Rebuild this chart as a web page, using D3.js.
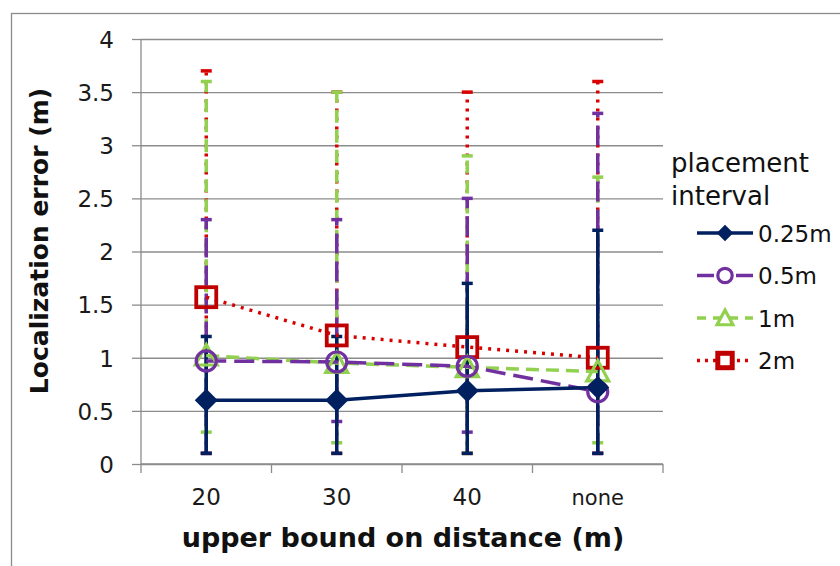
<!DOCTYPE html>
<html>
<head>
<meta charset="utf-8">
<script src="https://cdn.jsdelivr.net/npm/d3@7"></script>
<style>
  body { margin: 0; background: #fff; }
  svg { display: block; }
  .grid line { stroke: #8c8c8c; stroke-width: 1.3; }
  .grid path { display: none; }
  .tick-label { font-family: "DejaVu Sans", sans-serif; fill: #1a1a1a; }
</style>
</head>
<body>
<svg id="chart" width="840" height="566"></svg>
<script>
const categories = ["20", "30", "40", "none"];
const seriesNames = ["0.25m", "0.5m", "1m", "2m"];
const yTicks = [0, 0.5, 1, 1.5, 2, 2.5, 3, 3.5, 4];

// mean localization error per series
const mean025 = [0.6, 0.6, 0.69, 0.72];
const mean05 = [0.97, 0.96, 0.92, 0.68];
const mean1 = [1.02, 0.95, 0.91, 0.87];
const mean2 = [1.57, 1.21, 1.1, 1.0];

// error bar min / max
const low025 = [0.1, 0.1, 0.1, 0.1];
const high025 = [1.2, 1.2, 1.7, 2.2];
const low05 = [0.1, 0.4, 0.3, 0.1];
const high05 = [2.3, 2.3, 2.5, 3.3];
const low1 = [0.3, 0.2, 0.1, 0.2];
const high1 = [3.6, 3.5, 2.9, 2.7];
const low2 = [0.1, 0.1, 0.1, 0.1];
const high2 = [3.7, 3.5, 3.5, 3.6];

const series = [
  { name: seriesNames[0], mean: mean025, low: low025, high: high025, color: "#002060", dash: null, legendDash: null, marker: "diamond" },
  { name: seriesNames[1], mean: mean05, low: low05, high: high05, color: "#7030a0", dash: "20,8", legendDash: "17,22", marker: "circle" },
  { name: seriesNames[2], mean: mean1, low: low1, high: high1, color: "#92d050", dash: "13,7", legendDash: "9,7", marker: "triangle" },
  { name: seriesNames[3], mean: mean2, low: low2, high: high2, color: "#d80000", dash: "3,6", legendDash: "3,5", marker: "square" },
];

const svg = d3.select("#chart");

// outer frame
svg.append("rect")
  .attr("x", 11.5).attr("y", 13.5)
  .attr("width", 840).attr("height", 600)
  .attr("fill", "none").attr("stroke", "#8c8c8c").attr("stroke-width", 1.3);

const plotLeft = 141, plotRight = 663, plotTop = 39, plotBottom = 464;

const x = d3.scaleBand().domain(categories).range([plotLeft, plotRight]).padding(0);
const cx = (c) => x(c) + x.bandwidth() / 2;
const y = d3.scaleLinear().domain([0, 4]).range([plotBottom, plotTop]);

// gridlines
const yGrid = svg.append("g")
  .attr("class", "grid")
  .attr("transform", `translate(${plotLeft},0)`)
  .call(d3.axisLeft(y).tickValues(yTicks).tickSize(0).tickFormat(""));
yGrid.selectAll(".tick line").attr("x2", plotRight - plotLeft);

// y axis ticks and labels
svg.append("g")
  .attr("class", "grid")
  .attr("transform", `translate(${plotLeft},0)`)
  .call(d3.axisLeft(y).tickValues(yTicks).tickSize(9).tickPadding(18).tickFormat((d) => String(d)))
  .attr("font-family", null)
  .attr("font-size", null)
  .call((g) => g.selectAll("text")
    .attr("class", "tick-label")
    .attr("dy", "0.36em")
    .style("font-size", "23px"));

svg.append("line")
  .attr("x1", plotLeft).attr("x2", plotLeft).attr("y1", plotTop).attr("y2", plotBottom)
  .attr("stroke", "#8c8c8c").attr("stroke-width", 1.3);

// x axis with ticks on category boundaries
svg.append("line")
  .attr("x1", plotLeft).attr("x2", plotRight).attr("y1", plotBottom).attr("y2", plotBottom)
  .attr("stroke", "#8c8c8c").attr("stroke-width", 1.3);

const bounds = categories.map((c) => x(c)).concat([plotRight]);
svg.selectAll(".xtick")
  .data(bounds)
  .enter()
  .append("line")
  .attr("x1", (d) => d).attr("x2", (d) => d)
  .attr("y1", plotBottom).attr("y2", plotBottom + 9)
  .attr("stroke", "#8c8c8c").attr("stroke-width", 1.3);

svg.selectAll(".xlabel")
  .data(categories)
  .enter()
  .append("text")
  .attr("class", "tick-label")
  .attr("x", (d) => cx(d))
  .attr("y", 505)
  .attr("text-anchor", "middle")
  .style("font-size", (d) => (d === "none" ? "21px" : "23px"))
  .text((d) => d);

// axis titles
svg.append("text")
  .attr("x", 403).attr("y", 547)
  .attr("text-anchor", "middle")
  .attr("font-family", "DejaVu Sans, sans-serif")
  .attr("font-weight", "bold")
  .attr("font-size", "27px")
  .attr("fill", "#111")
  .text("upper bound on distance (m)");

svg.append("text")
  .attr("transform", "translate(48,241) rotate(-90)")
  .attr("text-anchor", "middle")
  .attr("font-family", "DejaVu Sans, sans-serif")
  .attr("font-weight", "bold")
  .attr("font-size", "25px")
  .attr("fill", "#111")
  .text("Localization error (m)");

// error bars, last series at the bottom
const drawOrder = series.slice().reverse();
drawOrder.forEach((s) => {
  const g = svg.append("g");
  g.selectAll("line.bar")
    .data(categories)
    .enter()
    .append("line")
    .attr("x1", (c) => cx(c)).attr("x2", (c) => cx(c))
    .attr("y1", (c, i) => y(s.low[i])).attr("y2", (c, i) => y(s.high[i]))
    .attr("stroke", s.color)
    .attr("stroke-width", 3.5)
    .attr("stroke-dasharray", s.dash);
  g.selectAll("line.cap")
    .data(categories.flatMap((c, i) => [[c, s.low[i]], [c, s.high[i]]]))
    .enter()
    .append("line")
    .attr("x1", (d) => cx(d[0]) - 5.5).attr("x2", (d) => cx(d[0]) + 5.5)
    .attr("y1", (d) => y(d[1])).attr("y2", (d) => y(d[1]))
    .attr("stroke", s.color)
    .attr("stroke-width", 3.5);
});

const line = d3.line().x((d) => cx(d[0])).y((d) => y(d[1]));

drawOrder.forEach((s) => {
  svg.append("path")
    .datum(categories.map((c, i) => [c, s.mean[i]]))
    .attr("d", line)
    .attr("fill", "none")
    .attr("stroke", s.color)
    .attr("stroke-width", 3.5)
    .attr("stroke-dasharray", s.dash);
});

const drawMarker = (g, s, px, py, scale, fill) => {
  if (s.marker === "diamond") {
    const r = 11.5 * scale;
    g.append("path")
      .attr("d", `M${px},${py - r}L${px + r},${py}L${px},${py + r}L${px - r},${py}Z`)
      .attr("fill", s.color);
  } else if (s.marker === "circle") {
    g.append("circle")
      .attr("cx", px).attr("cy", py).attr("r", 10 * scale)
      .attr("fill", fill)
      .attr("stroke", s.color).attr("stroke-width", 3.2);
  } else if (s.marker === "triangle") {
    const r = 11 * scale;
    g.append("path")
      .attr("d", `M${px},${py - r}L${px + r},${py + r * 0.85}L${px - r},${py + r * 0.85}Z`)
      .attr("fill", fill)
      .attr("stroke", s.color).attr("stroke-width", 3.2);
  } else {
    const h = 10 * scale;
    g.append("rect")
      .attr("x", px - h).attr("y", py - h)
      .attr("width", 2 * h).attr("height", 2 * h)
      .attr("fill", fill)
      .attr("stroke", "#c00000").attr("stroke-width", scale < 1 ? 5 : 3.8);
  }
};

drawOrder.forEach((s) => {
  const g = svg.append("g");
  categories.forEach((c, i) => drawMarker(g, s, cx(c), y(s.mean[i]), 1, "none"));
});

// legend
const legend = svg.append("g").attr("font-family", "DejaVu Sans, sans-serif").attr("fill", "#111");
legend.append("text").attr("x", 671).attr("y", 172).attr("font-size", "26px").text("placement");
legend.append("text").attr("x", 671).attr("y", 205).attr("font-size", "26px").text("interval");

series.forEach((s, i) => {
  const ly = 233 + i * 42.5;
  legend.append("line")
    .attr("x1", 697).attr("x2", 753).attr("y1", ly).attr("y2", ly)
    .attr("stroke", s.color).attr("stroke-width", 3.5)
    .attr("stroke-dasharray", s.legendDash);
  drawMarker(legend, s, 725, ly, 0.72, "#fff");
  legend.append("text")
    .attr("x", 758).attr("y", ly + 8.5)
    .attr("font-size", "23px")
    .text(s.name);
});
</script>
</body>
</html>
